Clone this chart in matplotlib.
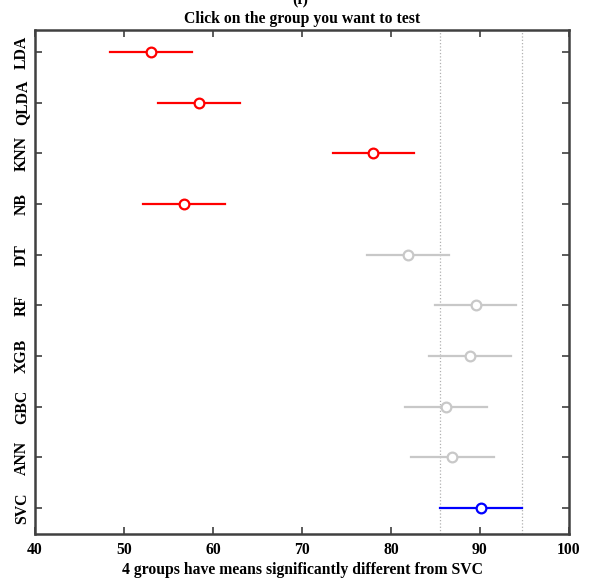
import numpy as np
import matplotlib.pyplot as plt

groups = ['LDA', 'QLDA', 'KNN', 'NB', 'DT', 'RF', 'XGB', 'GBC', 'ANN', 'SVC']
means = [53.0, 58.4, 78.0, 56.7, 81.9, 89.5, 88.9, 86.2, 86.9, 90.1]
halfwidth = [4.6, 4.6, 4.55, 4.6, 4.6, 4.55, 4.6, 4.6, 4.65, 4.6]
colors = ['red', 'red', 'red', 'red', '#c8c8c8', '#c8c8c8', '#c8c8c8',
          '#c8c8c8', '#c8c8c8', 'blue']
ref = 'SVC'

plt.rcParams['font.family'] = ['Liberation Serif', 'DejaVu Serif']
plt.rcParams['font.weight'] = 'bold'
fs = 11.3

fig = plt.figure(figsize=(5.93, 5.79), dpi=100)
ax = fig.add_axes([35/593, 1-534/579, 534/593, 504/579])

ypos = np.arange(1, len(groups)+1)
for y, m, h, c in zip(ypos, means, halfwidth, colors):
    ax.plot([m-h, m+h], [y, y], color=c, lw=1.6, zorder=3)
    ax.plot(m, y, 'o', mfc='white', mec=c, mew=1.6, ms=7, zorder=4)

# dotted lines at the comparison interval of the chosen group
iref = groups.index(ref)
for xv in (means[iref]-halfwidth[iref], means[iref]+halfwidth[iref]):
    ax.axvline(xv, color='#b0b0b0', ls=':', lw=0.9, zorder=1)

ax.set_xlim(40, 100)
ax.set_ylim(10.51, 0.566)
ax.set_xticks(np.arange(40, 101, 10))
ax.set_yticks(ypos)
ax.set_yticklabels(groups, rotation=90, va='center', fontsize=fs)
ax.tick_params(axis='x', labelsize=fs, pad=6)
ax.tick_params(direction='in', length=5, width=1.2, color='#404040',
               top=True, right=True)
for s in ax.spines.values():
    s.set_linewidth(1.8)
    s.set_color('#404040')

ax.set_title('Click on the group you want to test', fontsize=fs,
             fontweight='bold', pad=5)
ax.set_xlabel('4 groups have means significantly different from %s' % ref,
              fontsize=fs, fontweight='bold', labelpad=3)
fig.text(300/593, 1-3/579, '(f)', ha='center', va='baseline', fontsize=fs)

fig.savefig('out.png', dpi=100)
